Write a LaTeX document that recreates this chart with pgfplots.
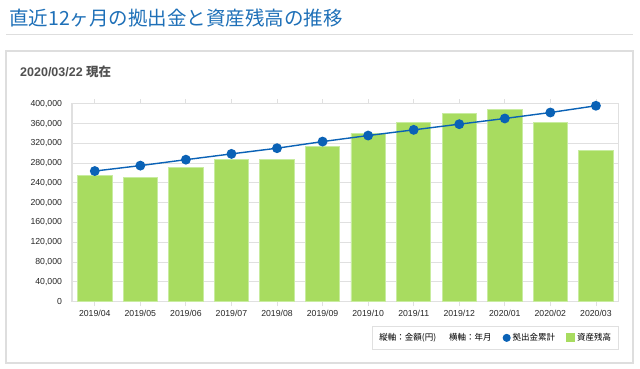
\documentclass[border=0pt]{standalone}
\usepackage{pgfplots}
\pgfplotsset{compat=1.18}
\usepackage{fontspec}
\setmainfont{Liberation Sans}
\newfontfamily\jp{Noto Sans CJK JP}
\definecolor{gridgray}{RGB}{224,224,224}
\definecolor{panelgray}{RGB}{222,222,222}
\definecolor{barfill}{RGB}{168,220,96}
\definecolor{baredge}{RGB}{200,236,160}
\definecolor{lineblue}{RGB}{10,98,182}
\definecolor{titleblue}{RGB}{30,112,184}
\definecolor{subgray}{RGB}{80,80,80}
\pgfplotstableread{
x bal cum
0 256000 264000
1 251500 275000
2 271800 287000
3 288000 298700
4 288300 310200
5 312900 323600
6 340000 335800
7 361500 347300
8 381100 358800
9 387800 370300
10 362900 382400
11 306200 396000
}\datatable
\begin{document}
\begin{tikzpicture}[x=1pt,y=1pt]
\useasboundingbox (0,0) rectangle (640,369);
\fill[white] (0,0) rectangle (640,369);
% title
\node[anchor=west, inner sep=0pt, text=titleblue, font=\jp\fontsize{19.5}{22}\selectfont] at (9,351) {直近12ヶ月の拠出金と資産残高の推移};
\draw[panelgray, line width=1.5pt] (6,334.7) -- (633,334.7);
% panel
\draw[panelgray, line width=1.2pt] (6,6) rectangle (633,318);
\node[anchor=west, inner sep=0pt, text=subgray, font=\fontsize{12.5}{14}\selectfont\bfseries] at (20,297) {2020/03/22 {\jp 現在}};
\begin{axis}[
  at={(72pt,67.4pt)}, anchor=south west,
  scale only axis, width=546.7pt, height=197.8pt,
  xmin=-0.5, xmax=11.5, ymin=0, ymax=400000,
  xtick={0,...,11},
  xticklabels={2019/04,2019/05,2019/06,2019/07,2019/08,2019/09,2019/10,2019/11,2019/12,2020/01,2020/02,2020/03},
  ytick={0,40000,...,400000},
  scaled y ticks=false,
  /pgf/number format/.cd, fixed, 1000 sep={,}, assume math mode=true,
  /pgfplots/.cd,
  ymajorgrids, grid style={draw=gridgray, line width=1pt},
  axis line style={draw=gridgray, line width=1.2pt},
  tick align=outside, major tick length=4.5pt,
  ytick style={draw=none},
  xtick style={draw=gridgray, line width=0.8pt},
  tick label style={font=\fontsize{8.7}{10}\selectfont, text=black!85},
  yticklabel style={xshift=-2pt},
  xticklabel style={yshift=-1pt},
  legend columns=4,
  legend style={at={(1,0)}, anchor=north east, yshift=-24.4pt,
    draw=gridgray, line width=1pt, font=\jp\fontsize{8.5}{9.5}\selectfont,
    inner xsep=5pt, inner ysep=5pt,
    /tikz/every even column/.append style={column sep=9pt}},
  legend cell align=left,
]
\addlegendimage{empty legend}\addlegendentry{縦軸：金額(円)}
\addlegendimage{empty legend}\addlegendentry{横軸：年月}
\addlegendimage{legend image code/.code={\fill[lineblue] (5pt,0pt) circle (3.5pt);}}\addlegendentry{拠出金累計}
\addlegendimage{legend image code/.code={\fill[barfill] (1pt,-4pt) rectangle (9pt,4pt);}}\addlegendentry{資産残高}
\addplot[ybar, bar width=34.3pt, fill=barfill, draw=baredge, line width=0.8pt, forget plot] table[x=x, y=bal] {\datatable};
\addplot[lineblue, line width=1.4pt, mark=*, mark size=4.2pt, mark options={fill=lineblue, draw=lineblue}, forget plot] table[x=x, y=cum] {\datatable};
\end{axis}
\end{tikzpicture}
\end{document}
